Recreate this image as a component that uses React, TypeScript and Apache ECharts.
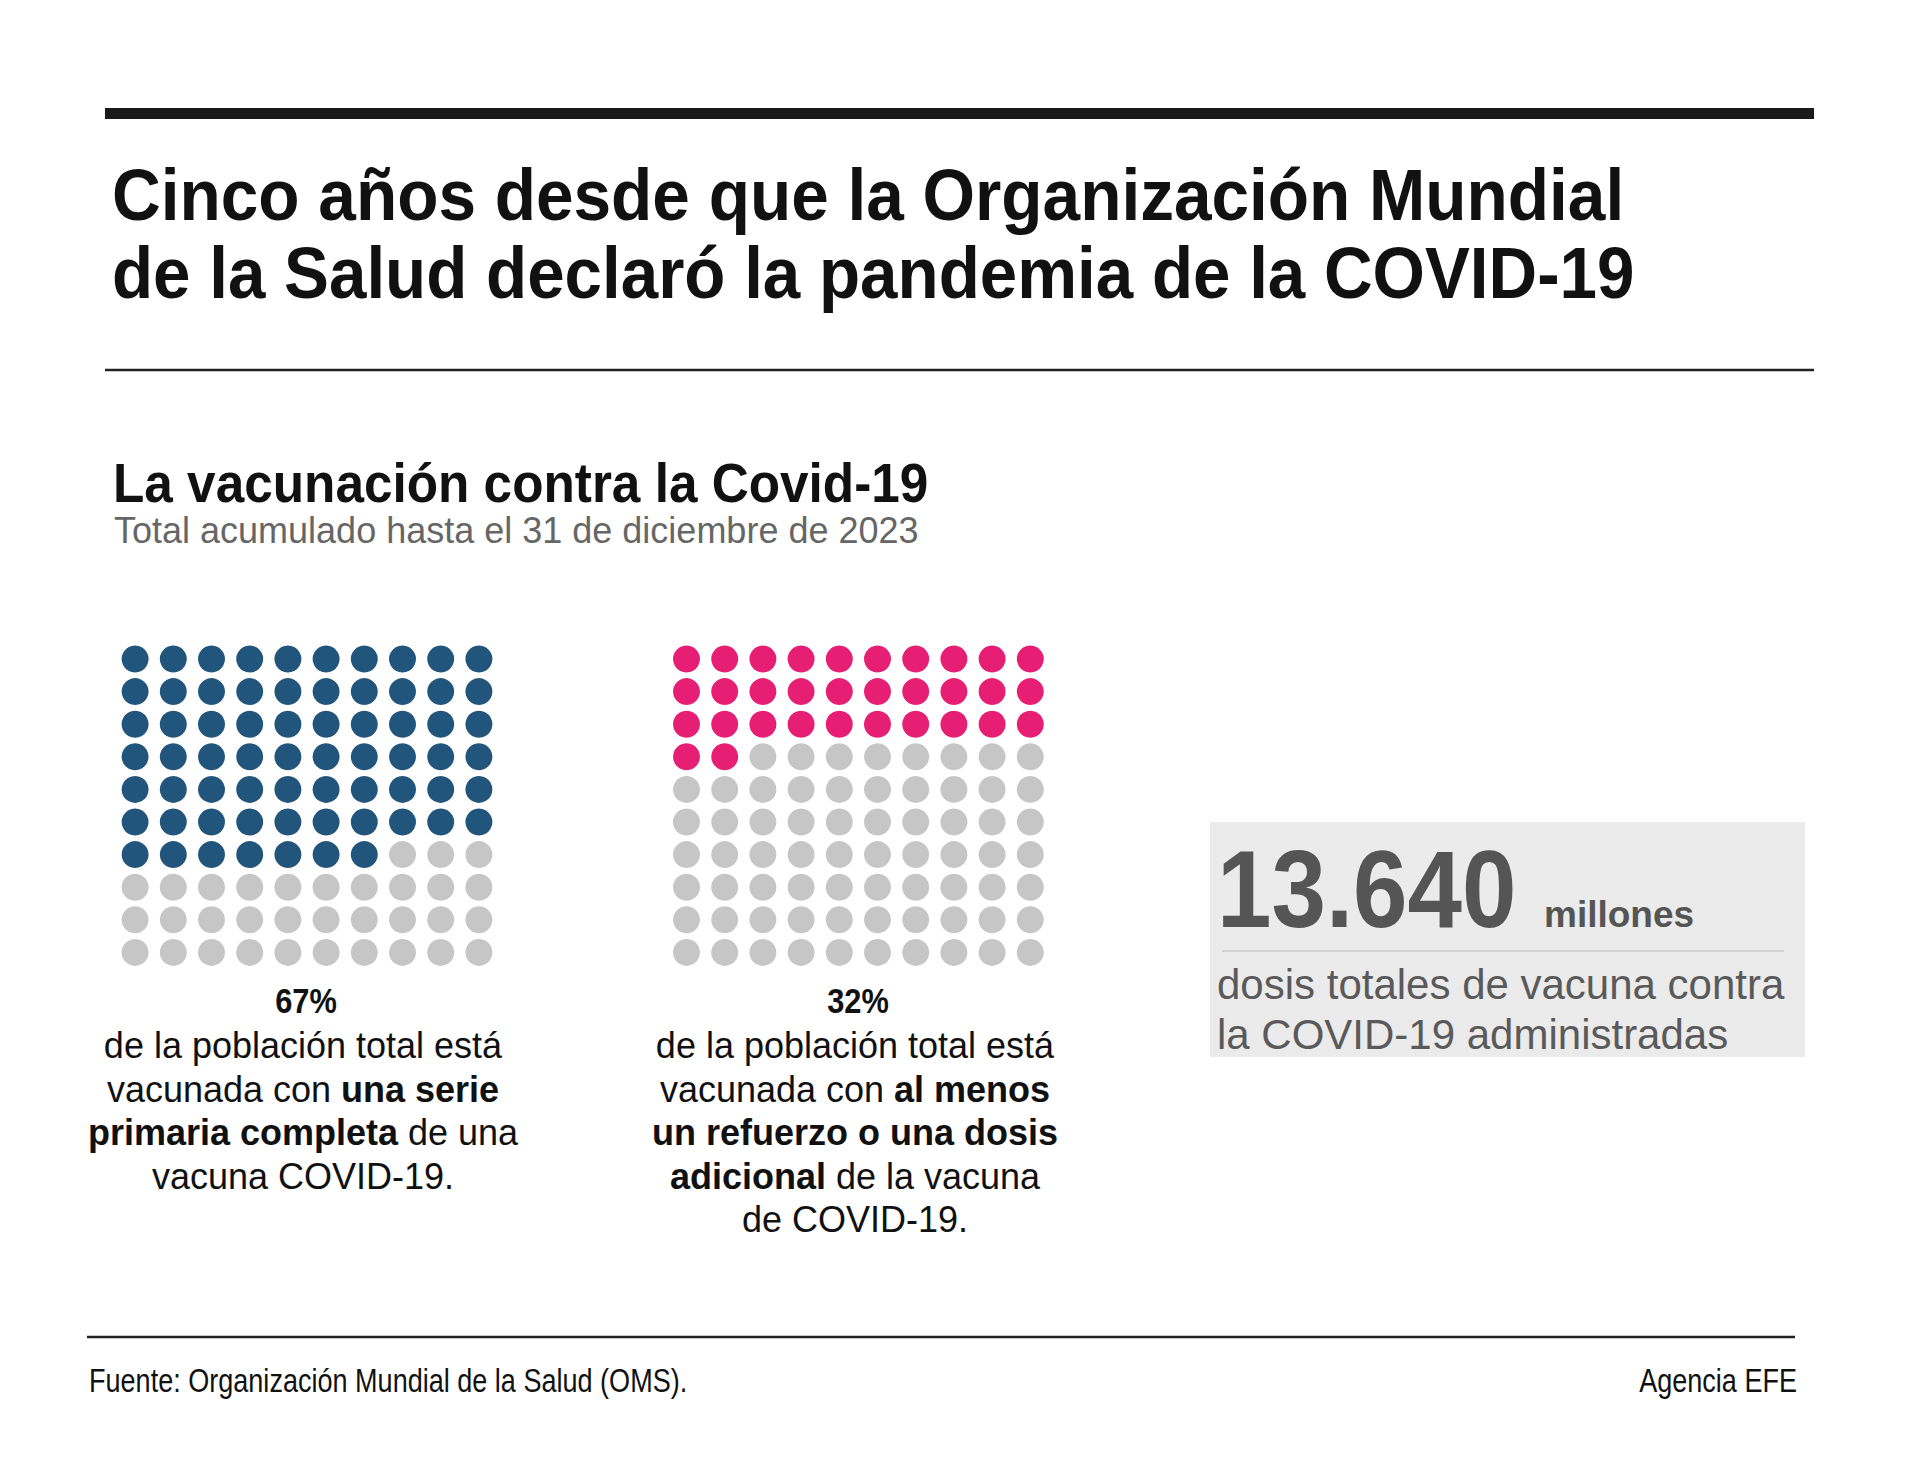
import React, { useEffect, useRef } from "react";
import * as echarts from "echarts";

// ---- Data ----
const panelNames = ["Serie primaria completa", "Al menos un refuerzo o dosis adicional"];
const panelPercents = [67, 32];
const gridSide = 10; // 10 x 10 waffle = 100 %
const leftDescription = [
  "de la población total está",
  "vacunada con {b|una serie}",
  "{b|primaria completa} de una",
  "vacuna COVID-19.",
];
const rightDescription = [
  "de la población total está",
  "vacunada con {b|al menos}",
  "{b|un refuerzo o una dosis}",
  "{b|adicional} de la vacuna",
  "de COVID-19.",
];
const totalDoses = "13.640";
const totalDosesUnit = "millones";
const totalDosesText = ["dosis totales de vacuna contra", "la COVID-19 administradas"];
const titleLines = [
  "Cinco años desde que la Organización Mundial",
  "de la Salud declaró la pandemia de la COVID-19",
];
const sectionTitle = "La vacunación contra la Covid-19";
const sectionSubtitle = "Total acumulado hasta el 31 de diciembre de 2023";
const sourceText = "Fuente: Organización Mundial de la Salud (OMS).";
const creditText = "Agencia EFE";

// ---- Styles ----
const FONT = "'Liberation Sans', Arial, Helvetica, sans-serif";
const panelColors = ["#22557b", "#e61f74"];
const emptyColor = "#c6c6c6";

function waffleData(pct: number, color: string) {
  const out: any[] = [];
  for (let i = 0; i < gridSide * gridSide; i++) {
    out.push({
      value: [i % gridSide, Math.floor(i / gridSide)],
      itemStyle: { color: i < pct ? color : emptyColor, opacity: 1 },
    });
  }
  return out;
}

// baseline -> middle (dominant-baseline: central)
const mid = (baseline: number, fs: number) => baseline - 0.347 * fs;

function txt(
  text: string,
  x: number,
  baseline: number,
  fs: number,
  opts: { bold?: boolean; color?: string; align?: string; scaleX?: number; rich?: any } = {}
) {
  return {
    type: "text",
    x,
    y: mid(baseline, fs),
    scaleX: opts.scaleX ?? 1,
    originX: 0,
    originY: 0,
    silent: true,
    style: {
      text,
      fontFamily: FONT,
      fontSize: fs,
      fontWeight: opts.bold ? "bold" : "normal",
      fill: opts.color ?? "#111111",
      align: opts.align ?? "left",
      verticalAlign: "middle",
      rich: opts.rich,
    },
  };
}

export default function App() {
  const ref = useRef<HTMLDivElement>(null);

  useEffect(() => {
    document.body.style.margin = "0";
    const chart = echarts.init(ref.current!, undefined, { renderer: "svg" });

    const gridLefts = [116, 667.4];
    const gridTop = 642.7;
    const cellW = 38.2;
    const cellH = 32.6;

    const richB = (fs: number) => ({
      b: { fontFamily: FONT, fontSize: fs, fontWeight: "bold", fill: "#111111" },
    });

    const graphic: any[] = [];
    // top thick bar & separator
    graphic.push({ type: "rect", silent: true, shape: { x: 105, y: 108, width: 1709, height: 11 }, style: { fill: "#1a1a1a" } });
    graphic.push(txt(titleLines[0], 112, 220, 72, { bold: true, scaleX: 0.938 }));
    graphic.push(txt(titleLines[1], 112, 298, 72, { bold: true, scaleX: 0.935 }));
    graphic.push({ type: "line", silent: true, shape: { x1: 105, y1: 370, x2: 1814, y2: 370 }, style: { stroke: "#222", lineWidth: 2.5 } });

    graphic.push(txt(sectionTitle, 113, 502, 55, { bold: true, scaleX: 0.933 }));
    graphic.push(txt(sectionSubtitle, 114, 543, 36, { color: "#666666" }));

    // percentage labels
    const centersPct = [306, 858];
    const centersDesc = [303, 855];
    panelPercents.forEach((p, i) => {
      graphic.push(txt(`${p}%`, centersPct[i], 1013, 35, { bold: true, scaleX: 0.88, align: "center" }));
    });
    const lineBase = [1058, 1101.5, 1145, 1188.5, 1232];
    leftDescription.forEach((l, k) => {
      graphic.push(txt(l, centersDesc[0], lineBase[k], 36, { align: "center", rich: richB(36) }));
    });
    rightDescription.forEach((l, k) => {
      graphic.push(txt(l, centersDesc[1], lineBase[k], 36, { align: "center", rich: richB(36) }));
    });

    // big number box
    graphic.push({ type: "rect", silent: true, shape: { x: 1210, y: 822, width: 595, height: 235 }, style: { fill: "#ebebeb" } });
    graphic.push(txt(totalDoses, 1217, 927, 110, { bold: true, scaleX: 0.89, color: "#555555" }));
    graphic.push(txt(totalDosesUnit, 1544, 927, 37, { bold: true, color: "#555555" }));
    graphic.push({ type: "line", silent: true, shape: { x1: 1222, y1: 951, x2: 1784, y2: 951 }, style: { stroke: "#c8c8c8", lineWidth: 1.5 } });
    graphic.push(txt(totalDosesText[0], 1217, 999, 42, { color: "#5a5a5a" }));
    graphic.push(txt(totalDosesText[1], 1217, 1049, 42, { color: "#5a5a5a" }));

    // footer
    graphic.push({ type: "line", silent: true, shape: { x1: 87, y1: 1337, x2: 1795, y2: 1337 }, style: { stroke: "#222", lineWidth: 2.5 } });
    graphic.push(txt(sourceText, 89, 1392, 33, { scaleX: 0.82 }));
    graphic.push(txt(creditText, 1797, 1392, 33, { scaleX: 0.82, align: "right" }));

    chart.setOption({
      animation: false,
      backgroundColor: "#ffffff",
      grid: gridLefts.map((l) => ({ left: l, top: gridTop, width: cellW * gridSide, height: cellH * gridSide })),
      xAxis: gridLefts.map((_, i) => ({ gridIndex: i, type: "value", min: -0.5, max: gridSide - 0.5, show: false })),
      yAxis: gridLefts.map((_, i) => ({ gridIndex: i, type: "value", min: -0.5, max: gridSide - 0.5, inverse: true, show: false })),
      series: panelPercents.map((p, i) => ({
        name: panelNames[i],
        type: "scatter",
        xAxisIndex: i,
        yAxisIndex: i,
        symbol: "circle",
        symbolSize: 27,
        silent: true,
        itemStyle: { opacity: 1 },
        data: waffleData(p, panelColors[i]),
      })),
      graphic,
    });

    return () => chart.dispose();
  }, []);

  return <div ref={ref} style={{ width: 1920, height: 1461 }} />;
}
